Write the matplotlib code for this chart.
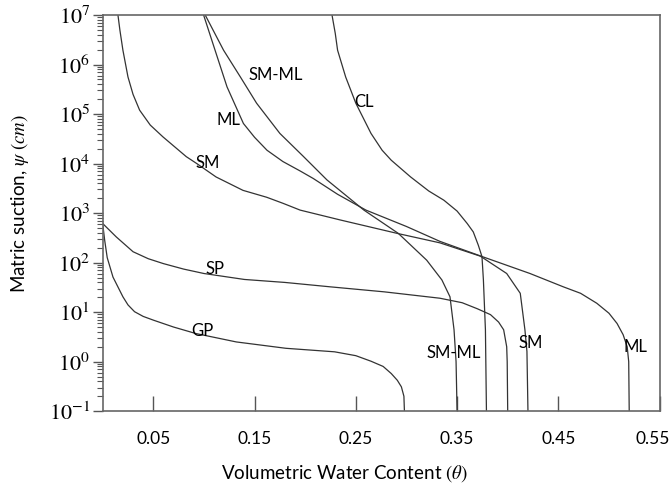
import math
import matplotlib
matplotlib.use("Agg")
import matplotlib.pyplot as plt
import matplotlib.transforms as mtransforms
from matplotlib.ticker import LogLocator, FixedLocator, FuncFormatter, NullFormatter

plt.rcParams["font.family"] = ["Lato", "DejaVu Sans"]
plt.rcParams["mathtext.fontset"] = "stix"

# water retention curves: volumetric water content vs matric suction (cm)
gp_theta = [0.0, 0.002, 0.0045, 0.0102, 0.020, 0.025, 0.0315, 0.040, 0.050, 0.070, 0.092, 0.132, 0.181, 0.229, 0.250, 0.265, 0.277, 0.285, 0.291, 0.295, 0.2975, 0.298]
gp_psi = [617, 282, 126, 51, 20.4, 14, 10.2, 8.2, 6.9, 5.0, 3.7, 2.5, 1.86, 1.58, 1.32, 1.02, 0.8, 0.575, 0.42, 0.31, 0.2, 0.1]

sp_theta = [0.0, 0.0134, 0.030, 0.045, 0.060, 0.080, 0.100, 0.140, 0.180, 0.225, 0.278, 0.333, 0.355, 0.370, 0.383, 0.391, 0.396, 0.399, 0.3995, 0.400]
sp_psi = [617, 331, 166, 120, 95.5, 74, 60.3, 45.7, 39.8, 32.4, 25.7, 19.1, 15.5, 11.7, 8.9, 6.3, 4.4, 2.0, 1.0, 0.1]

sm_theta = [0.0151, 0.017, 0.020, 0.025, 0.030, 0.0365, 0.047, 0.0595, 0.0826, 0.093, 0.112, 0.1386, 0.162, 0.178, 0.195, 0.235, 0.291, 0.333, 0.373, 0.399, 0.4124, 0.417, 0.419, 0.420]
sm_psi = [1e7, 5.0e6, 1.95e6, 5.62e5, 2.5e5, 1.2e5, 6.0e4, 3.47e4, 1.38e4, 1.0e4, 5.37e3, 2.88e3, 2.09e3, 1.58e3, 1.15e3, 724, 389, 251, 135, 60.3, 24, 4.4, 1.6, 0.1]

ml_theta = [0.0997, 0.111, 0.1228, 0.139, 0.150, 0.1623, 0.178, 0.195, 0.208, 0.232, 0.260, 0.300, 0.333, 0.375, 0.422, 0.455, 0.472, 0.488, 0.500, 0.508, 0.514, 0.518, 0.5195, 0.520]
ml_psi = [1e7, 1.95e6, 3.55e5, 6.46e4, 3.4e4, 1.86e4, 1.1e4, 7.1e3, 5.0e3, 2.4e3, 1.15e3, 537, 269, 132, 60.3, 32.4, 24, 15.1, 9.5, 5.9, 3.5, 2.0, 1.0, 0.1]

smml_theta = [0.1013, 0.1194, 0.136, 0.152, 0.175, 0.198, 0.2215, 0.258, 0.292, 0.320, 0.3275, 0.335, 0.343, 0.347, 0.349, 0.350]
smml_psi = [1e7, 1.95e6, 5.62e5, 1.66e5, 4.07e4, 1.41e4, 4.68e3, 1.15e3, 389, 112, 70.8, 44.7, 20.4, 4.4, 1.0, 0.1]

cl_theta = [0.2265, 0.2297, 0.232, 0.240, 0.250, 0.265, 0.276, 0.285, 0.304, 0.322, 0.337, 0.350, 0.360, 0.366, 0.371, 0.3746, 0.376, 0.378, 0.379]
cl_psi = [1e7, 4.27e6, 1.95e6, 5.6e5, 1.66e5, 4.07e4, 1.86e4, 1.17e4, 5.4e3, 2.8e3, 1.82e3, 1.1e3, 617, 417, 224, 132, 44.7, 4.4, 0.1]

curves = [
    (gp_theta, gp_psi),
    (sp_theta, sp_psi),
    (sm_theta, sm_psi),
    (ml_theta, ml_psi),
    (smml_theta, smml_psi),
    (cl_theta, cl_psi),
]

# curve names and where they are written
label_text = ["SM-ML", "ML", "SM", "CL", "SP", "GP", "SM-ML", "SM", "ML"]
label_theta = [0.1705, 0.1245, 0.1033, 0.258, 0.111, 0.0984, 0.3466, 0.4228, 0.526]
label_psi = [6.2e5, 7.6e4, 1.02e4, 1.78e5, 74, 4.1, 1.48, 2.34, 2.0]

xticks = [0.05, 0.15, 0.25, 0.35, 0.45, 0.55]

fig, ax = plt.subplots(figsize=(6.71, 4.86), dpi=100)
fig.subplots_adjust(left=0.153, right=0.983, top=0.969, bottom=0.154)

for th, psi in curves:
    ax.plot(th, psi, color="#333333", lw=0.9)

for t, x, y in zip(label_text, label_theta, label_psi):
    ax.text(x, y, t, fontsize=12, ha="center", va="center", color="black")

ax.set_yscale("log")
ax.set_xlim(0, 0.55)
ax.set_ylim(0.1, 1e7)

ax.xaxis.set_major_locator(FixedLocator(xticks))
ax.set_xticklabels(["%.2f" % v for v in xticks], fontsize=12.5)
ax.tick_params(axis="x", direction="in", length=11, width=1, color="#555555", pad=14)
# last label pulled inside the figure
last = ax.get_xticklabels()[-1]
last.set_transform(last.get_transform() + mtransforms.ScaledTranslation(-7 / 100, 0, fig.dpi_scale_trans))

ax.yaxis.set_major_locator(LogLocator(base=10, numticks=12))
ax.yaxis.set_minor_locator(LogLocator(base=10, subs=range(2, 10), numticks=12))
ax.yaxis.set_major_formatter(FuncFormatter(lambda v, p: r"$10^{%d}$" % round(math.log10(v))))
ax.yaxis.set_minor_formatter(NullFormatter())
ax.tick_params(axis="y", which="major", direction="out", length=7, width=1, color="#555555", labelsize=16, pad=2)
ax.tick_params(axis="y", which="minor", direction="out", length=4, width=0.8, color="#555555")
# bottom label sits a little above the axis line
low = ax.get_yticklabels()[0]
low.set_transform(low.get_transform() + mtransforms.ScaledTranslation(0, 6 / 100, fig.dpi_scale_trans))

for s in ax.spines.values():
    s.set_color("#666666")
    s.set_linewidth(1.2)

ax.set_xlabel(r"Volumetric Water Content $(\theta)$", fontsize=13.5, va="center")
ax.xaxis.set_label_coords(0.435, -0.157)
ax.set_ylabel(r"Matric suction, $\psi$ $(cm)$", fontsize=13.5, va="center")
ax.yaxis.set_label_coords(-0.148, 0.525)

fig.savefig("out.png", dpi=100)
